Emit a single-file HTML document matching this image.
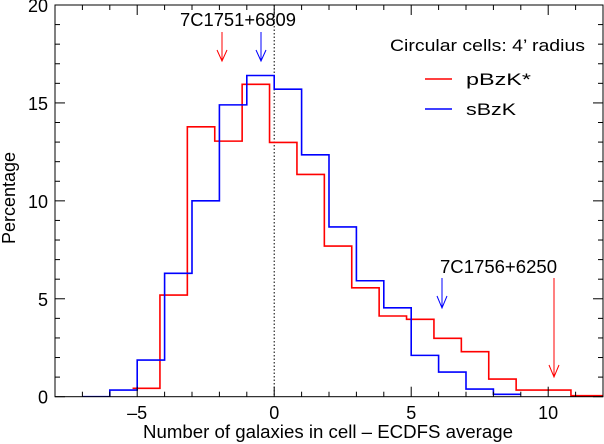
<!DOCTYPE html>
<html><head><meta charset="utf-8"><style>
body{margin:0;background:#fff}
svg{display:block;font-family:"Liberation Sans",sans-serif}
</style></head><body>
<svg id="c" width="604" height="444"></svg>
<script>
const blueEdgesStart = -7;
const blueValues = [0, 0.34, 1.87, 6.3, 10.0, 14.9, 16.4, 15.7, 12.35, 8.67, 5.92, 4.54, 2.11, 1.26, 0.39, 0.12];
const redEdgesStart = -5.17;
const redValues = [0.43, 5.19, 13.78, 13.05, 15.95, 12.98, 11.35, 7.69, 5.56, 4.12, 3.95, 2.98, 2.3, 0.9, 0.34, 0.34, 0.05, 0.05];
const xTicks = [-5, 0, 5, 10];
const yTicks = [0, 5, 10, 15, 20];
const NS = "http://www.w3.org/2000/svg";
const svg = document.getElementById('c');
const L = 55, R = 603, T = 5, B = 396.7;
const xmin = -8, xmax = 12, ymin = 0, ymax = 20;
const sx = v => L + (v - xmin) / (xmax - xmin) * (R - L);
const sy = v => B - (v - ymin) / (ymax - ymin) * (B - T);
function mk(tag, attrs, parent) { const e = document.createElementNS(NS, tag); for (const k in attrs) e.setAttribute(k, attrs[k]); (parent || svg).appendChild(e); return e; }

const clip = mk('clipPath', {id: 'pc'}); mk('rect', {x: L, y: T, width: R - L, height: B - T}, clip);

function step(start, vals, color, name) {
  let d = '';
  vals.forEach((v, i) => {
    const x0 = sx(start + i), x1 = sx(start + i + 1), y = sy(v);
    d += (i === 0 ? 'M' + x0 + ',' + y : 'L' + x0 + ',' + y) + 'L' + x1 + ',' + y;
  });
  const p = mk('path', {d: d, fill: 'none', stroke: color, 'stroke-width': 1.6, 'clip-path': 'url(#pc)'});
  
  
}
const zl = mk('line', {x1: sx(0), x2: sx(0), y1: T, y2: B, stroke: '#000', 'stroke-dasharray': '1.5,2', 'stroke-width': 1});


step(redEdgesStart, redValues, '#ff0000', 'pbzk-series');
step(blueEdgesStart, blueValues, '#0000ff', 'sbzk-series');

const box = mk('rect', {x: L, y: T, width: R - L, height: B - T, fill: 'none', stroke: '#000', 'stroke-width': 1});


for (let v = xmin; v <= xmax; v++) {
  const len = v % 5 === 0 ? 10 : 5;
  mk('line', {x1: sx(v), x2: sx(v), y1: B, y2: B - len, stroke: '#000'});
  mk('line', {x1: sx(v), x2: sx(v), y1: T, y2: T + len, stroke: '#000'});
}
for (let v = ymin; v <= ymax; v++) {
  const len = v % 5 === 0 ? 10 : 5;
  mk('line', {x1: L, x2: L + len, y1: sy(v), y2: sy(v), stroke: '#000'});
  mk('line', {x1: R, x2: R - len, y1: sy(v), y2: sy(v), stroke: '#000'});
}
xTicks.forEach(v => {
  const t = mk('text', {x: sx(v), y: 419, 'text-anchor': 'middle', 'font-size': 18});
  t.textContent = v < 0 ? '\u2013' + Math.abs(v) : v;
  
  
});
yTicks.forEach(v => {
  const t = mk('text', {x: 48, y: sy(v) + 7, 'text-anchor': 'end', 'font-size': 18});
  t.textContent = v;
  
  
});
</script>
<svg width="604" height="444" style="position:absolute;left:0;top:0;font-family:'Liberation Sans',sans-serif">
<text x="143" y="438" font-size="18" textLength="370" lengthAdjust="spacingAndGlyphs">Number of galaxies in cell – ECDFS average</text>
<text transform="translate(15,198) rotate(-90)" text-anchor="middle" font-size="18">Percentage</text>
<text x="390" y="51" font-size="17" textLength="195" lengthAdjust="spacingAndGlyphs">Circular cells: 4’ radius</text>
<line x1="425" x2="452" y1="79" y2="79" stroke="#ff0000" stroke-width="1.5"/>
<text x="466" y="85" font-size="17" textLength="65" lengthAdjust="spacingAndGlyphs">pBzK*</text>
<line x1="425" x2="452" y1="109" y2="109" stroke="#0000ff" stroke-width="1.5"/>
<text x="466" y="115" font-size="17" textLength="50" lengthAdjust="spacingAndGlyphs">sBzK</text>
<text x="180" y="26" font-size="18" textLength="116" lengthAdjust="spacingAndGlyphs">7C1751+6809</text>
<g stroke="#ff0000" fill="none"><line x1="222" y1="32" x2="222" y2="61"/><path d="M217,50 L222,61 L227,50"/></g>
<g stroke="#0000ff" fill="none"><line x1="261" y1="32" x2="261" y2="61"/><path d="M256,50 L261,61 L266,50"/></g>
<text x="440" y="273" font-size="18" textLength="117" lengthAdjust="spacingAndGlyphs">7C1756+6250</text>
<g stroke="#0000ff" fill="none"><line x1="442" y1="278" x2="442" y2="308"/><path d="M437,296 L442,308 L447,296"/></g>
<g stroke="#ff0000" fill="none"><line x1="554" y1="278" x2="554" y2="377"/><path d="M549,365 L554,377 L559,365"/></g>
</svg>
</body></html>
